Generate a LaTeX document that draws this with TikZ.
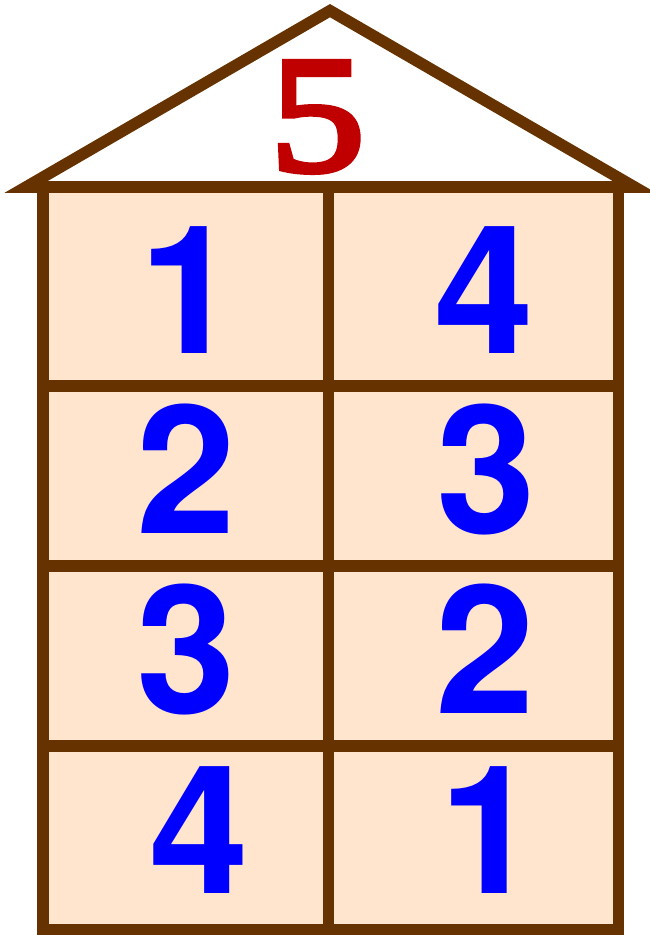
\documentclass[tikz,border=0pt]{standalone}
\usepackage{fontspec}
\newfontfamily\digitfont{TeX Gyre Heros}
\newfontface\roofont{Liberation Serif}[FakeStretch=1.15, FakeBold=3.5]
\definecolor{housebrown}{RGB}{102,51,0}
\definecolor{housefill}{RGB}{255,229,206}
\definecolor{roofred}{RGB}{192,0,0}
\definecolor{digitblue}{RGB}{0,0,255}
\tikzset{
  wall/.style={draw=housebrown, line width=11.5pt, line join=miter, miter limit=20},
  numeral/.style={anchor=base, inner sep=0pt, text=digitblue,
    font=\digitfont\bfseries\fontsize{179}{179}\selectfont},
  roofnum/.style={anchor=base, inner sep=0pt, text=roofred,
    font=\roofont\fontsize{166}{166}\selectfont},
}
\begin{document}
\begin{tikzpicture}[x=1pt,y=-1pt]
\useasboundingbox (0,0) rectangle (650,935);
\clip (0,0) rectangle (650,935);
% body fill
\fill[housefill] (43,187) rectangle (618.5,929.5);
% roof
\draw[wall] (26,187) -- (330,10.65) -- (634.5,187) -- cycle;
% body frame
\draw[wall] (43,187) rectangle (618.5,929.5);
\draw[wall] (328.5,187) -- (328.5,929.5);
\draw[wall] (43,386) -- (618.5,386);
\draw[wall] (43,566) -- (618.5,566);
\draw[wall] (43,746) -- (618.5,746);
% numbers
\node[roofnum] (top) at (317.5,170.5) {5};
\node[numeral] (l1) at (189,353) {1};
\node[numeral] (l2) at (186,533) {2};
\node[numeral] (l3) at (186,713) {3};
\node[numeral] (l4) at (199,893) {4};
\node[numeral] (r1) at (484,353) {4};
\node[numeral] (r2) at (486,533) {3};
\node[numeral] (r3) at (485,713) {2};
\node[numeral] (r4) at (489,893) {1};
\end{tikzpicture}
\end{document}
